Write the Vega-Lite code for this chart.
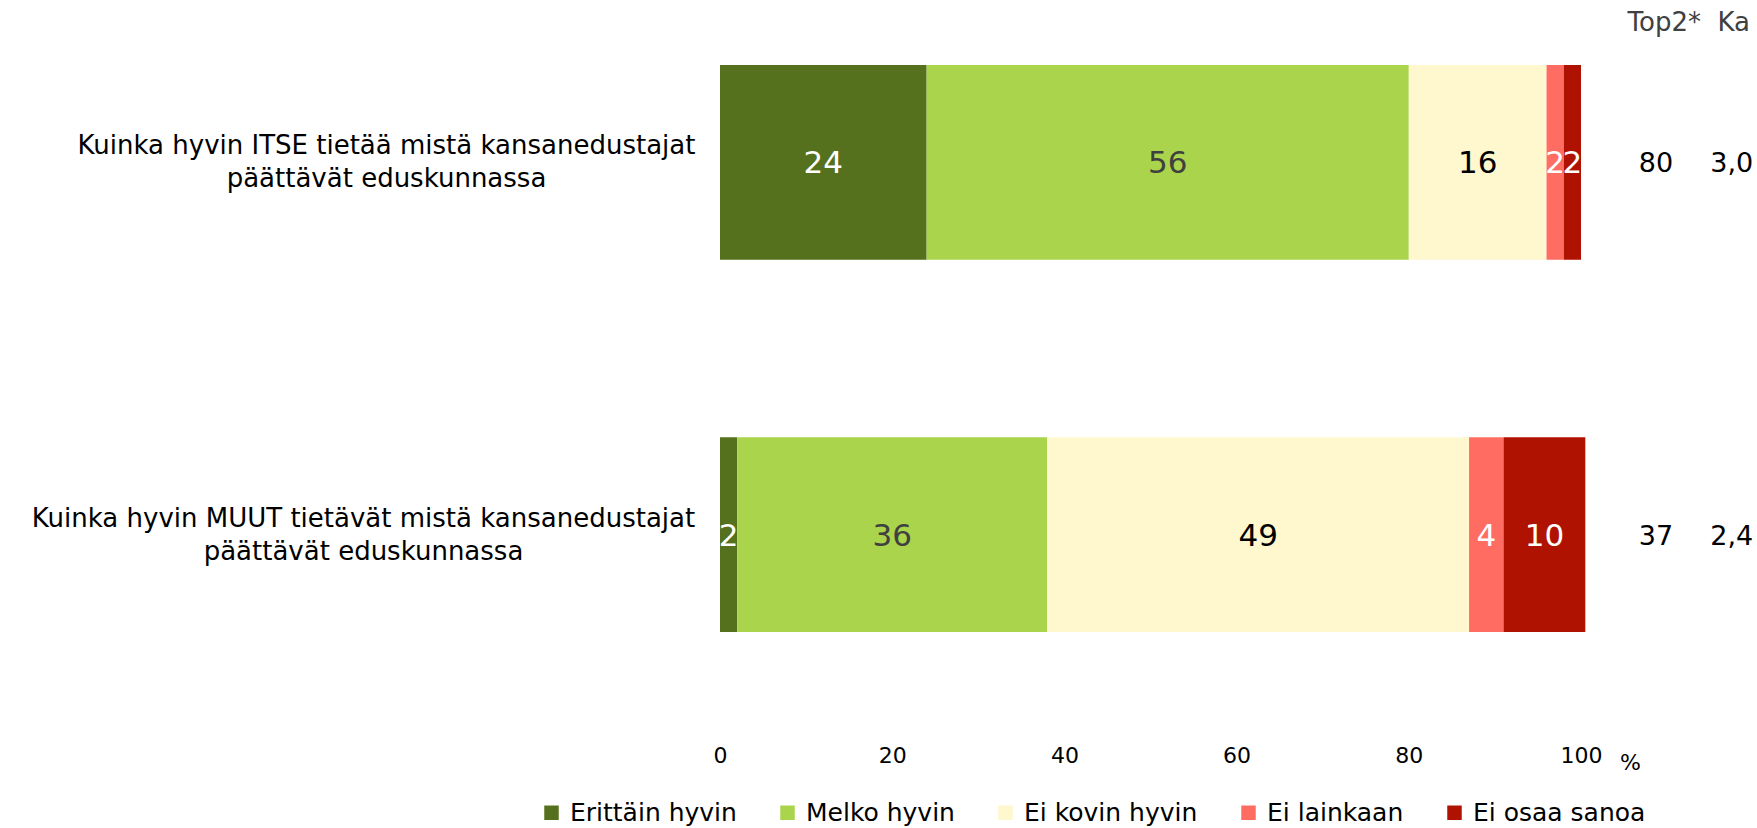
{
  "$schema": "https://vega.github.io/schema/vega-lite/v6.json",
  "width": 861,
  "height": 617,
  "autosize": {"type": "none"},
  "padding": {"left": 720, "top": 40, "right": 176, "bottom": 171},
  "background": "white",
  "config": {"font": "DejaVu Sans", "view": {"stroke": null}},
  "title": {"text": "Top2*\u00a0\u00a0Ka", "anchor": "end", "frame": "group", "dx": 169, "offset": 4, "fontSize": 26, "fontWeight": "normal", "color": "#404040"},
  "datasets": {
    "bars": [
      {"question": "Kuinka hyvin ITSE tietää mistä kansanedustajat päättävät eduskunnassa", "cat": "Erittäin hyvin", "order": 1, "value": 24},
      {"question": "Kuinka hyvin ITSE tietää mistä kansanedustajat päättävät eduskunnassa", "cat": "Melko hyvin", "order": 2, "value": 56},
      {"question": "Kuinka hyvin ITSE tietää mistä kansanedustajat päättävät eduskunnassa", "cat": "Ei kovin hyvin", "order": 3, "value": 16},
      {"question": "Kuinka hyvin ITSE tietää mistä kansanedustajat päättävät eduskunnassa", "cat": "Ei lainkaan", "order": 4, "value": 2},
      {"question": "Kuinka hyvin ITSE tietää mistä kansanedustajat päättävät eduskunnassa", "cat": "Ei osaa sanoa", "order": 5, "value": 2},
      {"question": "Kuinka hyvin MUUT tietävät mistä kansanedustajat päättävät eduskunnassa", "cat": "Erittäin hyvin", "order": 1, "value": 2},
      {"question": "Kuinka hyvin MUUT tietävät mistä kansanedustajat päättävät eduskunnassa", "cat": "Melko hyvin", "order": 2, "value": 36},
      {"question": "Kuinka hyvin MUUT tietävät mistä kansanedustajat päättävät eduskunnassa", "cat": "Ei kovin hyvin", "order": 3, "value": 49},
      {"question": "Kuinka hyvin MUUT tietävät mistä kansanedustajat päättävät eduskunnassa", "cat": "Ei lainkaan", "order": 4, "value": 4},
      {"question": "Kuinka hyvin MUUT tietävät mistä kansanedustajat päättävät eduskunnassa", "cat": "Ei osaa sanoa", "order": 5, "value": 9.5}
    ],
    "summary": [
      {"question": "Kuinka hyvin ITSE tietää mistä kansanedustajat päättävät eduskunnassa", "top2": "80", "ka": "3,0"},
      {"question": "Kuinka hyvin MUUT tietävät mistä kansanedustajat päättävät eduskunnassa", "top2": "37", "ka": "2,4"}
    ]
  },
  "layer": [
    {
      "data": {"name": "bars"},
      "transform": [
        {"stack": "value", "groupby": ["question"], "sort": [{"field": "order", "order": "ascending"}], "as": ["x0", "x1"]}
      ],
      "mark": {"type": "bar"},
      "encoding": {
        "y": {
          "field": "question", "type": "nominal",
          "sort": ["Kuinka hyvin ITSE tietää mistä kansanedustajat päättävät eduskunnassa", "Kuinka hyvin MUUT tietävät mistä kansanedustajat päättävät eduskunnassa"],
          "scale": {"paddingInner": 0.4765, "paddingOuter": 0.067},
          "axis": {
            "title": null, "domain": false, "ticks": false,
            "labelAlign": "center", "labelBaseline": "middle", "labelOffset": -16,
            "labelFontSize": 26, "labelLineHeight": 33, "labelLimit": 0, "labelColor": "black",
            "labelPadding": {"condition": {"test": "indexof(datum.value, 'MUUT') >= 0", "value": 357}, "value": 334},
            "labelExpr": "split(replace(datum.label, ' päättävät', '|päättävät'), '|')"
          }
        },
        "x": {
          "field": "x0", "type": "quantitative",
          "scale": {"domain": [0, 100]},
          "axis": {
            "values": [0, 20, 40, 60, 80, 100], "domain": false, "ticks": false, "grid": false,
            "labelFontSize": 22, "labelPadding": 88, "labelColor": "black", "labelFlush": false,
            "title": "%", "titleX": 910, "titleY": 105, "titleFontSize": 22, "titleFontWeight": "normal",
            "titleAlign": "center", "titleBaseline": "middle", "titleColor": "black"
          }
        },
        "x2": {"field": "x1"},
        "color": {
          "field": "cat", "type": "nominal",
          "scale": {
            "domain": ["Erittäin hyvin", "Melko hyvin", "Ei kovin hyvin", "Ei lainkaan", "Ei osaa sanoa"],
            "range": ["#56711E", "#AAD44B", "#FFF7CD", "#FF6C61", "#B01201"]
          },
          "legend": {
            "orient": "none", "legendX": -181, "legendY": 760, "direction": "horizontal",
            "title": null, "symbolType": "square", "symbolSize": 210, "symbolStrokeWidth": 0,
            "labelFontSize": 25, "labelOffset": 6, "columnPadding": 38, "labelColor": "black", "labelLimit": 0
          }
        }
      }
    },
    {
      "data": {"name": "bars"},
      "transform": [
        {"stack": "value", "groupby": ["question"], "sort": [{"field": "order", "order": "ascending"}], "as": ["x0", "x1"]},
        {"fold": ["x0", "x1"], "as": ["edge", "pos"]},
        {"aggregate": [{"op": "mean", "field": "pos", "as": "mid"}, {"op": "max", "field": "value", "as": "value"}], "groupby": ["question", "cat"]}
      ],
      "mark": {"type": "text", "fontSize": 31, "baseline": "middle", "align": "center", "dy": 2},
      "encoding": {
        "y": {"field": "question", "type": "nominal", "sort": ["Kuinka hyvin ITSE tietää mistä kansanedustajat päättävät eduskunnassa", "Kuinka hyvin MUUT tietävät mistä kansanedustajat päättävät eduskunnassa"]},
        "x": {"field": "mid", "type": "quantitative"},
        "text": {"field": "value", "type": "quantitative", "format": ".0f"},
        "color": {
          "condition": [
            {"test": "datum.cat === 'Melko hyvin'", "value": "#404040"},
            {"test": "datum.cat === 'Ei kovin hyvin'", "value": "#000000"}
          ],
          "value": "#ffffff"
        }
      }
    },
    {
      "data": {"name": "summary"},
      "mark": {"type": "text", "fontSize": 27, "baseline": "middle", "align": "center", "color": "black", "dy": 2},
      "encoding": {
        "y": {"field": "question", "type": "nominal", "sort": ["Kuinka hyvin ITSE tietää mistä kansanedustajat päättävät eduskunnassa", "Kuinka hyvin MUUT tietävät mistä kansanedustajat päättävät eduskunnassa"]},
        "x": {"datum": 108.7, "type": "quantitative"},
        "text": {"field": "top2"}
      }
    },
    {
      "data": {"name": "summary"},
      "mark": {"type": "text", "fontSize": 27, "baseline": "middle", "align": "center", "color": "black", "dy": 2},
      "encoding": {
        "y": {"field": "question", "type": "nominal", "sort": ["Kuinka hyvin ITSE tietää mistä kansanedustajat päättävät eduskunnassa", "Kuinka hyvin MUUT tietävät mistä kansanedustajat päättävät eduskunnassa"]},
        "x": {"datum": 117.5, "type": "quantitative"},
        "text": {"field": "ka"}
      }
    }
  ]
}
